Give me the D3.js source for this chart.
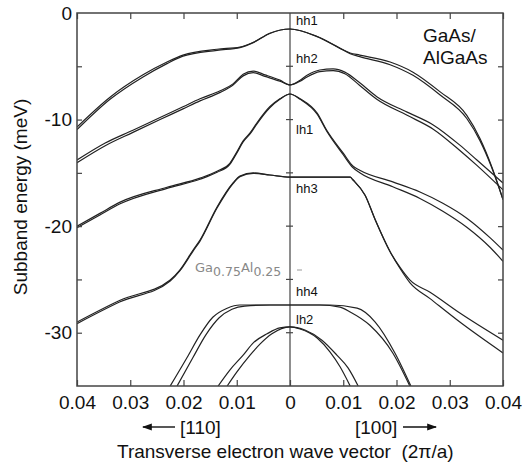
<!DOCTYPE html>
<html>
<head>
<meta charset="utf-8">
<script src="https://cdn.jsdelivr.net/npm/d3@7"></script>
<style>
body { margin: 0; background: #fff; }
text { font-family: "Liberation Sans", Arial, sans-serif; fill: #111; }
</style>
</head>
<body>
<script>
// k in units of 2pi/a (negative = [110], positive = [100]), E in meV
var xTicks = [-0.04, -0.03, -0.02, -0.01, 0, 0.01, 0.02, 0.03, 0.04];
var yTicks = [0, -10, -20, -30];
var yMinor = [-5, -10, -15, -20, -25, -30];

var hh1a = [[-0.04,-10.7],[-0.0338,-7.9],[-0.0276,-5.8],[-0.0231,-4.6],[-0.0201,-3.95],[-0.0137,-3.4],[-0.0094,-3.2],[-0.0069,-2.75],[-0.0038,-1.9],[0,-1.5],[0.0051,-2.2],[0.0094,-3.3],[0.0113,-3.75],[0.0131,-3.95],[0.0188,-4.6],[0.0231,-5.55],[0.0282,-7.4],[0.0332,-9.6],[0.0357,-11.8],[0.0378,-14.3],[0.04,-17.5]];
var hh1b = [[-0.04,-10.95],[-0.0338,-8.1],[-0.0276,-6.0],[-0.0231,-4.75],[-0.0201,-4.05],[-0.0137,-3.5],[-0.0094,-3.25],[-0.0069,-2.78],[-0.0038,-1.92],[0,-1.5],[0.0051,-2.22],[0.0094,-3.32],[0.0113,-3.82],[0.0131,-4.1],[0.0188,-4.85],[0.0231,-5.85],[0.0282,-7.7],[0.0332,-9.9],[0.0357,-12.0],[0.0378,-14.4],[0.04,-17.5]];
var hh2a = [[-0.04,-13.8],[-0.0347,-12.2],[-0.0295,-11.0],[-0.0244,-9.8],[-0.0201,-8.8],[-0.0169,-8.05],[-0.0131,-7.3],[-0.0107,-6.65],[-0.0088,-5.75],[-0.0069,-5.45],[-0.0047,-5.8],[-0.0019,-6.3],[0,-6.75],[0.0019,-6.3],[0.0032,-5.85],[0.0056,-5.35],[0.0081,-5.25],[0.0103,-5.55],[0.0131,-6.55],[0.0163,-7.85],[0.022,-9.3],[0.0269,-10.5],[0.0319,-12.4],[0.0351,-13.8],[0.04,-15.95]];
var hh2b = [[-0.04,-14.05],[-0.0347,-12.45],[-0.0295,-11.2],[-0.0244,-10.0],[-0.0201,-9.0],[-0.0169,-8.25],[-0.0131,-7.45],[-0.0107,-6.75],[-0.0088,-5.9],[-0.0069,-5.6],[-0.0047,-5.95],[-0.0019,-6.4],[0,-6.75],[0.0019,-6.4],[0.0032,-6.0],[0.0056,-5.5],[0.0081,-5.4],[0.0103,-5.7],[0.0131,-6.8],[0.0163,-8.1],[0.022,-9.6],[0.0269,-10.9],[0.0319,-12.9],[0.0351,-14.3],[0.04,-16.6]];
var lh1a = [[-0.04,-20.0],[-0.0357,-18.8],[-0.0319,-17.75],[-0.0231,-16.35],[-0.0169,-15.5],[-0.0137,-14.85],[-0.0113,-14.1],[-0.01,-13.05],[-0.0088,-12.0],[-0.0075,-11.25],[-0.0062,-10.3],[-0.0038,-8.8],[-0.0019,-8.05],[0,-7.6],[0.0019,-8.05],[0.0051,-9.4],[0.0069,-11.0],[0.01,-13.15],[0.0118,-14.35],[0.0131,-14.75],[0.0193,-15.85],[0.0244,-16.8],[0.0287,-17.85],[0.0332,-19.25],[0.0376,-21.1],[0.04,-22.25]];
var lh1b = [[-0.04,-20.15],[-0.0357,-18.95],[-0.0319,-17.9],[-0.0231,-16.45],[-0.0169,-15.6],[-0.0137,-14.95],[-0.0113,-14.2],[-0.01,-13.15],[-0.0088,-12.1],[-0.0075,-11.35],[-0.0062,-10.4],[-0.0038,-8.9],[-0.0019,-8.1],[0,-7.6],[0.0019,-8.1],[0.0051,-9.5],[0.0069,-11.1],[0.01,-13.3],[0.0118,-14.5],[0.0131,-15.0],[0.0193,-16.3],[0.0244,-17.4],[0.0287,-18.6],[0.0332,-20.1],[0.0376,-22.0],[0.04,-23.3]];
var hh3a = [[-0.04,-29.0],[-0.0319,-26.95],[-0.0225,-25.05],[-0.0207,-24.12],[-0.0182,-22.24],[-0.0169,-21.3],[-0.0137,-18.2],[-0.0107,-15.95],[-0.0094,-15.3],[-0.0069,-15.0],[-0.0038,-15.2],[0,-15.4],[0.0056,-15.4],[0.0113,-15.4],[0.0118,-15.65],[0.0141,-17.1],[0.016,-19.4],[0.0188,-22.4],[0.0207,-23.9],[0.0225,-25.05],[0.0263,-26.2],[0.0319,-28.15],[0.04,-30.7]];
var hh3b = [[-0.04,-29.15],[-0.0319,-27.1],[-0.0225,-25.15],[-0.0207,-24.2],[-0.0182,-22.34],[-0.0169,-21.4],[-0.0137,-18.3],[-0.0107,-16.0],[-0.0094,-15.35],[-0.0069,-15.05],[-0.0038,-15.2],[0,-15.4],[0.0056,-15.4],[0.0113,-15.4],[0.0118,-15.65],[0.0141,-17.1],[0.016,-19.4],[0.0188,-22.4],[0.0207,-24.0],[0.0225,-25.3],[0.0263,-26.8],[0.0319,-29.0],[0.04,-31.9]];
var hh4a = [[-0.0225,-35],[-0.0193,-32.3],[-0.0169,-30.2],[-0.0145,-28.55],[-0.0118,-27.7],[-0.0094,-27.4],[-0.0038,-27.4],[0,-27.4],[0.0056,-27.4],[0.0094,-27.6],[0.0113,-28.05],[0.015,-29.3],[0.0193,-31.9],[0.0225,-35]];
var hh4b = [[-0.0212,-35],[-0.0182,-32.3],[-0.0158,-30.2],[-0.0133,-28.6],[-0.0109,-27.8],[-0.0085,-27.5],[-0.0038,-27.4],[0,-27.4],[0.0075,-27.4],[0.0126,-27.7],[0.016,-29.0],[0.0197,-31.9],[0.0227,-35]];
var lh2a = [[-0.0135,-35],[-0.0113,-33.5],[-0.0088,-32.1],[-0.0069,-30.95],[-0.0043,-30.1],[-0.0019,-29.55],[0,-29.45],[0.0019,-29.65],[0.0051,-30.5],[0.0075,-31.8],[0.0094,-33.2],[0.0113,-35]];
var lh2b = [[-0.0118,-35],[-0.01,-33.7],[-0.0075,-32.1],[-0.0056,-31.05],[-0.0034,-30.1],[0,-29.45],[0.0028,-29.75],[0.006,-30.7],[0.0088,-32.1],[0.0109,-33.3],[0.0128,-35]];

var bands = [hh1a, hh1b, hh2a, hh2b, lh1a, lh1b, hh3a, hh3b, hh4a, hh4b, lh2a, lh2b];
var bandNames = ["hh1", "hh2", "lh1", "hh3", "hh4", "lh2"];
var bandLabelE = [-1.1, -4.7, -11.4, -16.9, -26.6, -29.2];

var width = 529, height = 468;
var pLeft = 77, pRight = 503, pTop = 13, pBottom = 386;

var svg = d3.select("body").append("svg")
    .attr("width", width)
    .attr("height", height);

var x = d3.scaleLinear().domain([-0.04, 0.04]).range([pLeft, pRight]);
var y = d3.scaleLinear().domain([-35, 0]).range([pBottom, pTop]);

svg.append("clipPath").attr("id", "plot")
  .append("rect")
    .attr("x", pLeft).attr("y", pTop)
    .attr("width", pRight - pLeft).attr("height", pBottom - pTop);

// centre line at k = 0 with little marks
svg.append("line")
    .attr("x1", x(0)).attr("x2", x(0))
    .attr("y1", pTop).attr("y2", pBottom)
    .style("stroke", "#444").style("stroke-width", 1.2);
svg.selectAll(".cmark").data(yMinor).enter().append("line")
    .attr("x1", x(0) - 4).attr("x2", x(0) + 3)
    .attr("y1", function(d){ return y(d); })
    .attr("y2", function(d){ return y(d); })
    .style("stroke", "#444").style("stroke-width", 1.2);

var line = d3.line()
    .x(function(d){ return x(d[0]); })
    .y(function(d){ return y(d[1]); })
    .curve(d3.curveMonotoneX);

svg.append("g").attr("clip-path", "url(#plot)")
  .selectAll("path").data(bands).enter().append("path")
    .attr("d", line)
    .style("fill", "none")
    .style("stroke", "#222")
    .style("stroke-width", 1.2);

// frame
svg.append("rect")
    .attr("x", pLeft).attr("y", pTop)
    .attr("width", pRight - pLeft).attr("height", pBottom - pTop)
    .style("fill", "none").style("stroke", "#444").style("stroke-width", 1.5);

var fmtK = function(d){ return d === 0 ? "0" : Math.abs(d).toFixed(2); };

var xAxis = svg.append("g")
    .attr("transform", "translate(0," + pBottom + ")")
    .call(d3.axisBottom(x).tickValues(xTicks).tickSizeInner(-6).tickSizeOuter(0).tickPadding(10).tickFormat(fmtK));
var xTop = svg.append("g")
    .attr("transform", "translate(0," + pTop + ")")
    .call(d3.axisTop(x).tickValues(xTicks.filter(function(d){ return d !== 0; })).tickSizeInner(-6).tickSizeOuter(0).tickFormat(""));
var yAxis = svg.append("g")
    .attr("transform", "translate(" + pLeft + ",0)")
    .call(d3.axisLeft(y).tickValues(yTicks).tickSizeInner(0).tickSizeOuter(0).tickPadding(5).tickFormat(function(d){ return String(d); }));
var yLeftMinor = svg.append("g")
    .attr("transform", "translate(" + pLeft + ",0)")
    .call(d3.axisLeft(y).tickValues(yMinor).tickSizeInner(-5).tickSizeOuter(0).tickFormat(""));
var yRight = svg.append("g")
    .attr("transform", "translate(" + pRight + ",0)")
    .call(d3.axisRight(y).tickValues(yMinor).tickSizeInner(-5).tickSizeOuter(0).tickFormat(""));

[xAxis, xTop, yAxis, yLeftMinor, yRight].forEach(function(g){
  g.select(".domain").remove();
  g.selectAll(".tick line").style("stroke", "#444").style("stroke-width", 1.2);
  g.selectAll("text").style("font-size", "19px").style("fill", "#111")
    .style("font-family", "'Liberation Sans', Arial, sans-serif");
});

// band labels
svg.selectAll(".blab").data(bandNames).enter().append("text")
    .attr("x", x(0) + 6)
    .attr("y", function(d, i){ return y(bandLabelE[i]); })
    .style("font-size", "13px")
    .text(function(d){ return d; });

svg.append("text").attr("x", 423).attr("y", 42).style("font-size", "19px").text("GaAs/");
svg.append("text").attr("x", 423).attr("y", 64).style("font-size", "19px").text("AlGaAs");

// faint barrier note
var note = svg.append("text").attr("x", 195).attr("y", 272)
    .style("font-size", "13px").style("fill", "#888")
    .style("font-family", "'DejaVu Sans', sans-serif");
note.append("tspan").style("fill", "#888").text("Ga");
note.append("tspan").attr("dy", 4).style("fill", "#888").style("font-size", "12.5px").text("0.75");
note.append("tspan").attr("dy", -4).style("fill", "#888").text("Al");
note.append("tspan").attr("dy", 4).style("fill", "#888").style("font-size", "12.5px").text("0.25");
svg.append("line").attr("x1", 297).attr("x2", 302).attr("y1", 270).attr("y2", 270)
    .style("stroke", "#999").style("stroke-width", 1);

// direction labels with arrows
svg.append("defs").append("marker")
    .attr("id", "ah").attr("viewBox", "0 0 10 10")
    .attr("refX", 9).attr("refY", 5)
    .attr("markerWidth", 7).attr("markerHeight", 7)
    .attr("orient", "auto-start-reverse")
  .append("path").attr("d", "M0,1.5L10,5L0,8.5Z").style("fill", "#111");

svg.append("line").attr("x1", 175).attr("x2", 143).attr("y1", 427).attr("y2", 427)
    .style("stroke", "#111").style("stroke-width", 1.4).attr("marker-end", "url(#ah)");
svg.append("text").attr("x", 180).attr("y", 434).style("font-size", "19px").text("[110]");
svg.append("text").attr("x", 355).attr("y", 434).style("font-size", "19px").text("[100]");
svg.append("line").attr("x1", 403).attr("x2", 436).attr("y1", 427).attr("y2", 427)
    .style("stroke", "#111").style("stroke-width", 1.4).attr("marker-end", "url(#ah)");

svg.append("text")
    .attr("x", 117).attr("y", 458)
    .style("font-size", "19px")
    .style("white-space", "pre")
    .text("Transverse electron wave vector  (2\u03c0/a)");

svg.append("text")
    .attr("transform", "translate(27,197) rotate(-90)")
    .attr("text-anchor", "middle")
    .style("font-size", "19px")
    .text("Subband energy (meV)");
</script>
</body>
</html>
